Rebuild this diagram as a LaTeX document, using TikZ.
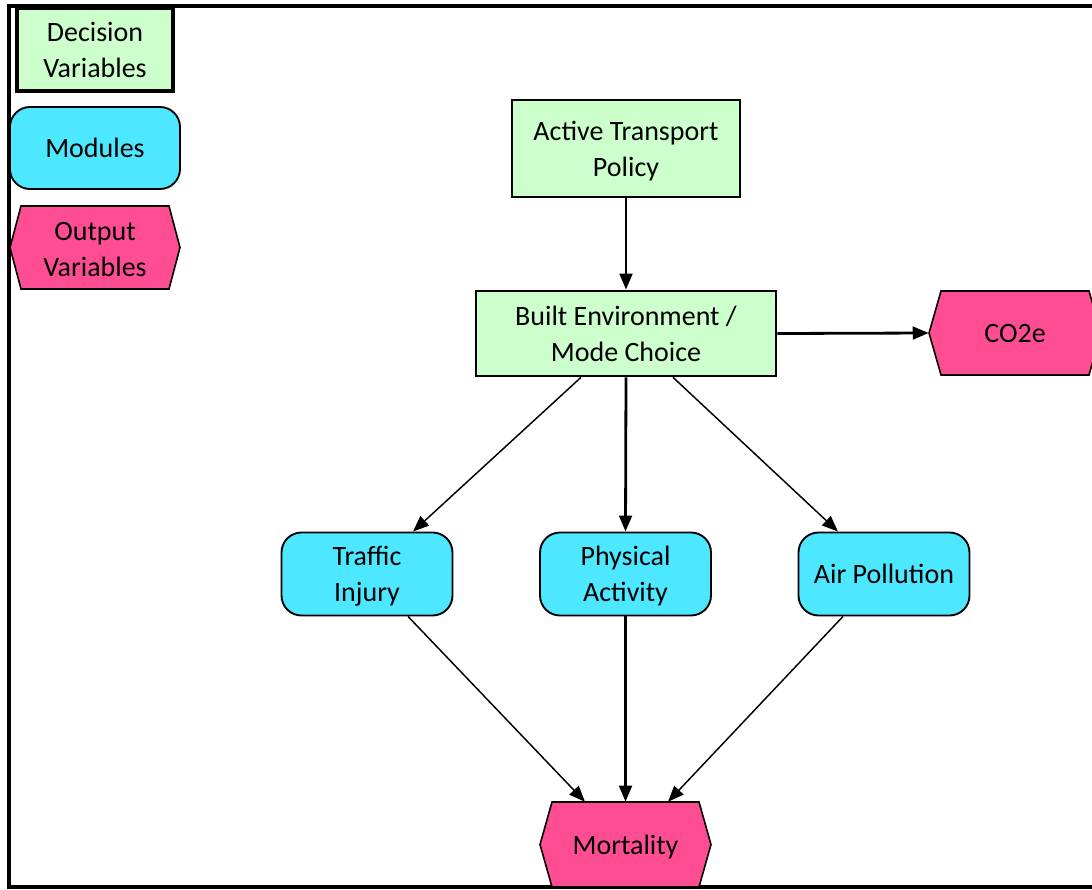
\documentclass[tikz,border=0pt]{standalone}
\usepackage{fontspec}
\setmainfont{Carlito}
\usetikzlibrary{arrows.meta}
\definecolor{decfill}{RGB}{204,255,204}
\definecolor{modfill}{RGB}{77,232,255}
\definecolor{outfill}{RGB}{255,77,148}
\tikzset{
  every node/.style={font=\fontsize{21}{27}\selectfont, align=center, text=black, text depth=0pt},
  decbox/.style={draw=black, fill=decfill, line width=2pt, inner sep=0pt},
  modbox/.style={draw=black, fill=modfill, line width=1.4pt, rounded corners=15pt, inner sep=0pt,
    minimum width=171*0.75pt, minimum height=83*0.75pt},
  hexlabel/.style={inner sep=0pt, minimum width=171*0.75pt, minimum height=84*0.75pt},
  hexshape/.style={draw=black, fill=outfill, line width=1.2pt, line join=miter},
  thick arrow/.style={line width=2.1pt, -{Triangle[length=12pt,width=9.5pt]}},
  thin arrow/.style={line width=1.1pt, -{Triangle[length=12pt,width=9.5pt]}},
  frameline/.style={line width=2.3pt}
}
% hexagon: centre x, centre y, half width, half height, tip inset (all px)
\newcommand\hexpath[5]{%
  \path[hexshape] (#1-#3,#2) -- (#1-#3+#5,#2-#4) -- (#1+#3-#5,#2-#4) -- (#1+#3,#2)
    -- (#1+#3-#5,#2+#4) -- (#1-#3+#5,#2+#4) -- cycle;}
\begin{document}
\begin{tikzpicture}[x=0.75pt, y=-0.75pt]
\useasboundingbox (0,0) rectangle (1092,889);
% frame
\draw[frameline] (1095,6) -- (9,6) -- (9,887) -- (1095,887);

% legend
\node[decbox, line width=2.4pt, minimum width=156*0.75pt, minimum height=83*0.75pt] (legdec) at (95,49.5) {Decision\\Variables};
\node[modbox, minimum width=170*0.75pt, minimum height=82*0.75pt] (legmod) at (95,148) {Modules};
\hexpath{95}{247.5}{85}{41.5}{11}
\node[hexlabel, minimum width=170*0.75pt, minimum height=83*0.75pt] (legout) at (95,249.5) {Output\\Variables};

% main nodes
\node[decbox, minimum width=228*0.75pt, minimum height=97*0.75pt] (atp) at (626,148.5) {Active Transport\\Policy};
\node[decbox, minimum width=300*0.75pt, minimum height=85*0.75pt] (be) at (626,333.5) {Built Environment /\\Mode Choice};
\hexpath{1015}{333}{86}{42}{12}
\node[hexlabel, minimum width=172*0.75pt] (co2) at (1015,333) {CO2e};

\node[modbox] (ti) at (367,574) {Traffic\\Injury};
\node[modbox] (pa) at (625.5,574) {Physical\\Activity};
\node[modbox] (ap) at (884,574) {Air Pollution};

\hexpath{625.5}{844.5}{85.5}{42.5}{12}
\node[hexlabel, minimum height=85*0.75pt] (mort) at (625.5,844.5) {Mortality};

% connectors
\draw[thick arrow] (atp.south) -- (be.north);
\draw[thick arrow] (be.east) -- (co2.west);
\draw[thin arrow] (be.south -| 581,0) -- (ti.north -| 413,0);
\draw[thick arrow] (be.south) -- (pa.north);
\draw[thin arrow] (be.south -| 673,0) -- (ap.north -| 838,0);
\draw[thin arrow] (ti.south -| 408,0) -- (mort.north -| 585,0);
\draw[thick arrow] (pa.south) -- (mort.north);
\draw[thin arrow] (ap.south -| 843,0) -- (mort.north -| 668,0);
\end{tikzpicture}
\end{document}
